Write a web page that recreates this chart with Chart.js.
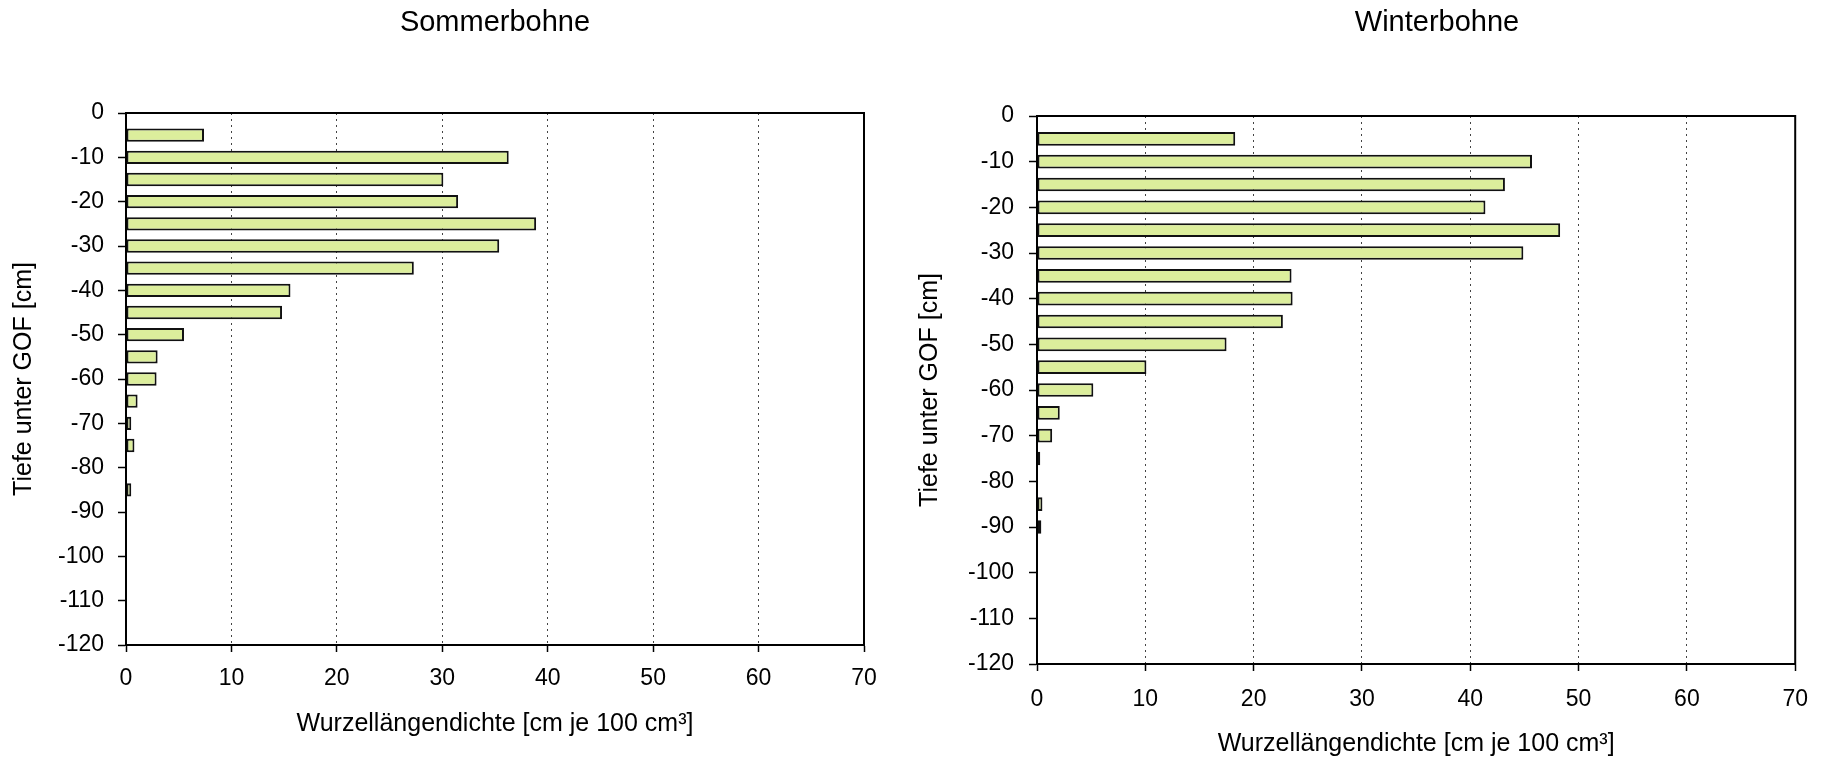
<!DOCTYPE html>
<html lang="de">
<head>
<meta charset="utf-8">
<title>Wurzellängendichte – Sommerbohne und Winterbohne</title>
<script src="https://cdn.jsdelivr.net/npm/chart.js@4/dist/chart.umd.min.js"></script>
<style>
  html, body { margin: 0; padding: 0; background: #ffffff; overflow: hidden; }
  #wrap { position: relative; width: 1823px; height: 762px; }
  canvas { position: absolute; top: 0; }
  #cSommer { left: 0; }
  #cWinter { left: 900px; }
</style>
</head>
<body>
<div id="wrap">
  <canvas id="cSommer" width="900" height="762"></canvas>
  <canvas id="cWinter" width="923" height="762"></canvas>
</div>
<script>
// Bodentiefen (cm unter GOF) und Wurzellängendichte (cm je 100 cm³)
const sommerTiefe = [-5, -10, -15, -20, -25, -30, -35, -40, -45, -50, -55, -60, -65, -70, -75, -85];
const sommerWLD   = [7.4, 36.3, 30.1, 31.5, 38.9, 35.4, 27.3, 15.6, 14.8, 5.5, 3.0, 2.9, 1.1, 0.5, 0.8, 0.5];

const winterTiefe = [-5, -10, -15, -20, -25, -30, -35, -40, -45, -50, -55, -60, -65, -70, -75, -85, -90];
const winterWLD   = [18.3, 45.7, 43.2, 41.4, 48.3, 44.9, 23.5, 23.6, 22.7, 17.5, 10.1, 5.2, 2.1, 1.4, 0.3, 0.5, 0.4];

// Achsenbereiche und Schrittweiten
const tiefeBereich = [-120, 0];
const tiefeSchritt = 10;
const wldBereich = [0, 70];
const wldSchritt = 10;

const titelSommer = 'Sommerbohne';
const titelWinter = 'Winterbohne';
const achseX = 'Wurzellängendichte [cm je 100 cm³]';
const achseY = 'Tiefe unter GOF [cm]';

const FONT = '"Liberation Sans", Arial, Helvetica, sans-serif';

// draws the panel heading at a fixed spot
const panelTitle = {
  id: 'panelTitle',
  afterDraw(chart, args, opts) {
    const ctx = chart.ctx;
    ctx.save();
    ctx.font = opts.size + 'px ' + FONT;
    ctx.fillStyle = '#000';
    ctx.textAlign = 'center';
    ctx.textBaseline = 'alphabetic';
    ctx.fillText(opts.text, opts.x, opts.y);
    ctx.restore();
  }
};

// closed box around the plot area
const plotFrame = {
  id: 'plotFrame',
  afterDatasetsDraw(chart) {
    const { left, top, right, bottom } = chart.chartArea;
    const ctx = chart.ctx;
    ctx.save();
    ctx.strokeStyle = '#000';
    ctx.lineWidth = 2;
    ctx.setLineDash([]);
    ctx.strokeRect(left, top, right - left, bottom - top);
    ctx.restore();
  }
};

function makeChart(canvasId, tiefe, werte, cfg) {
  const points = tiefe.map((t, i) => ({ x: werte[i], y: t }));
  return new Chart(document.getElementById(canvasId), {
    type: 'bar',
    data: {
      datasets: [{
        data: points,
        backgroundColor: '#dcee9c',
        borderColor: '#111',
        borderWidth: 2,
        borderSkipped: false,
        barPercentage: 0.6,
        categoryPercentage: 1.0
      }]
    },
    plugins: [panelTitle, plotFrame],
    options: {
      indexAxis: 'y',
      responsive: false,
      animation: false,
      events: [],
      layout: { padding: { top: cfg.top, right: cfg.right, left: 0, bottom: 0 } },
      plugins: {
        legend: { display: false },
        tooltip: { enabled: false },
        panelTitle: { text: cfg.title, x: cfg.titleX, y: 31, size: 29 }
      },
      scales: {
        x: {
          type: 'linear',
          position: 'bottom',
          min: wldBereich[0],
          max: wldBereich[1],
          offset: false,
          afterFit: s => { s.height = cfg.xHeight; },
          ticks: {
            stepSize: wldSchritt,
            padding: cfg.xTickPad,
            color: '#000',
            font: { family: FONT, size: 23 }
          },
          grid: {
            display: true,
            offset: false,
            drawOnChartArea: true,
            drawTicks: true,
            tickLength: 7,
            color: '#444',
            lineWidth: 1,
            tickColor: '#000',
            tickWidth: 1.5,
            tickBorderDash: []
          },
          border: { display: true, color: '#000', width: 2, dash: [2, 4] },
          title: {
            display: true,
            text: achseX,
            color: '#000',
            font: { family: FONT, size: 25 },
            padding: { top: 0, bottom: cfg.xTitlePad }
          }
        },
        y: {
          type: 'linear',
          position: 'left',
          min: tiefeBereich[0],
          max: tiefeBereich[1],
          offset: false,
          afterFit: s => { s.width = cfg.yWidth; },
          ticks: {
            stepSize: tiefeSchritt,
            padding: cfg.yTickPad,
            color: '#000',
            font: { family: FONT, size: 23 }
          },
          grid: {
            display: true,
            offset: false,
            drawOnChartArea: false,
            drawTicks: true,
            tickLength: 8,
            tickColor: '#000',
            tickWidth: 1.5,
            tickBorderDash: []
          },
          border: { display: true, color: '#000', width: 2 },
          title: {
            display: true,
            text: achseY,
            color: '#000',
            font: { family: FONT, size: 25 },
            padding: { top: cfg.yTitlePad, bottom: 0 }
          }
        }
      }
    }
  });
}

makeChart('cSommer', sommerTiefe, sommerWLD, {
  title: titelSommer, titleX: 495,
  top: 113, right: 36,
  yWidth: 126, xHeight: 117,
  xTickPad: 13, yTickPad: 14,
  xTitlePad: 23, yTitlePad: 9
});

makeChart('cWinter', winterTiefe, winterWLD, {
  title: titelWinter, titleX: 537,
  top: 116, right: 24,
  yWidth: 137, xHeight: 98,
  xTickPad: 15, yTickPad: 15,
  xTitlePad: 3, yTitlePad: 15
});
</script>
</body>
</html>
